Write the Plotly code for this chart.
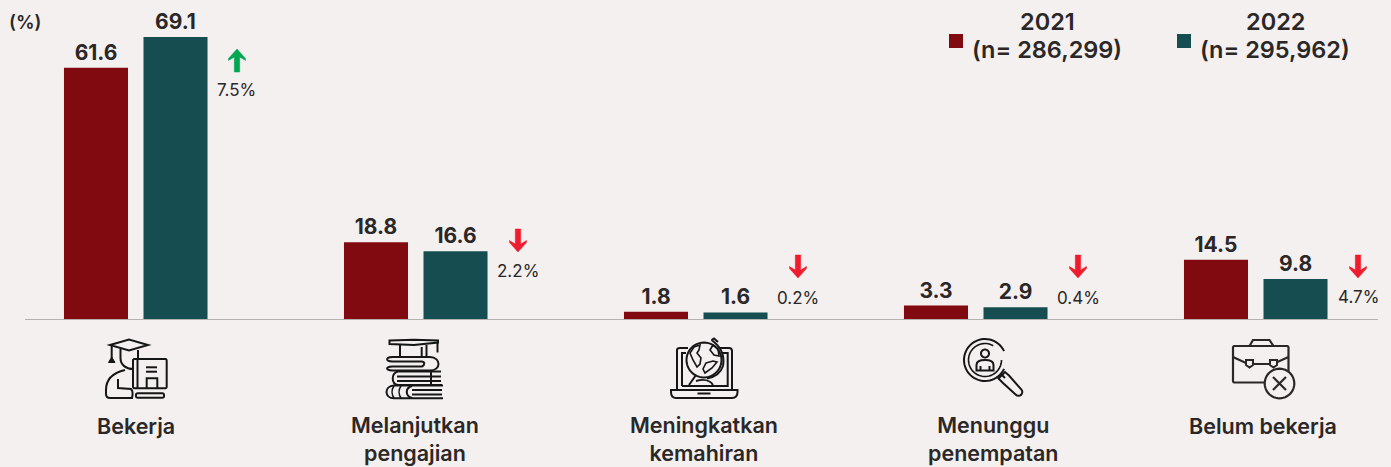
import math
import plotly.graph_objects as go

W, H = 1391, 467
BG = "#f3f0ef"
INK = "#2b2727"
ICON = "#161616"
FONT = "Inter"

categories = ["Bekerja", "Melanjutkan<br>pengajian", "Meningkatkan<br>kemahiran",
              "Menunggu<br>penempatan", "Belum bekerja"]
series_names = ["2021", "2022"]
sample_sizes = ["(n= 286,299)", "(n= 295,962)"]
values_2021 = [61.6, 18.8, 1.8, 3.3, 14.5]
values_2022 = [69.1, 16.6, 1.6, 2.9, 9.8]
deltas = ["7.5%", "2.2%", "0.2%", "0.4%", "4.7%"]
directions = ["up", "down", "down", "down", "down"]
colors = ["#800a10", "#154d51"]


def X(x):
    return x / W


def Y(y):
    return 1 - y / H


def path(cmds, close=False):
    out = []
    for c in cmds:
        op, pts = c[0], c[1:]
        out.append(op + " ".join(f"{X(pts[i]):.5f},{Y(pts[i + 1]):.5f}" for i in range(0, len(pts), 2)))
    return " ".join(out) + (" Z" if close else "")


def poly(pts, close=False):
    cmds = [("M", *pts[0])] + [("L", *p) for p in pts[1:]]
    return path(cmds, close)


def circle_pts(cx, cy, r, a0=0, a1=360, n=48):
    return [(cx + r * math.cos(math.radians(a0 + (a1 - a0) * i / n)),
             cy + r * math.sin(math.radians(a0 + (a1 - a0) * i / n))) for i in range(n + 1)]


shapes = []


def add(d, color=ICON, width=2.0, fill=None):
    s = dict(type="path", path=d, xref="paper", yref="paper", line=dict(color=color, width=width))
    if fill:
        s["fillcolor"] = fill
    shapes.append(s)


def line(*pts, **kw):
    add(poly(list(pts)), **kw)


def closed(*pts, **kw):
    add(poly(list(pts), True), **kw)


def ring(cx, cy, r, a0=0, a1=360, **kw):
    add(poly(circle_pts(cx, cy, r, a0, a1), a1 - a0 == 360), **kw)


def rrect(x0, y0, x1, y1, r=2, **kw):
    pts = (circle_pts(x1 - r, y0 + r, r, -90, 0, 5) + circle_pts(x1 - r, y1 - r, r, 0, 90, 5) +
           circle_pts(x0 + r, y1 - r, r, 90, 180, 5) + circle_pts(x0 + r, y0 + r, r, 180, 270, 5))
    add(poly(pts, True), **kw)


# Icon: graduate at a computer
closed((110, 345), (129, 339.5), (148, 345), (129, 350.5))
line((111.7, 346), (111.7, 358))
closed((108.5, 362.5), (115, 362.5), (111.7, 357), fill=ICON, width=1)
add(path([("M", 120.5, 349), ("L", 120.5, 358), ("C", 120.5, 365, 126, 369, 133, 369)]))
add(path([("M", 138, 350), ("L", 138, 358)]))
add(path([("M", 125, 370), ("C", 112, 373, 106, 380, 106, 390), ("L", 106, 394),
          ("C", 106, 397, 108, 398, 110, 398), ("L", 132, 398), ("C", 133, 394, 133, 391, 131, 389),
          ("L", 118, 388), ("L", 118, 379)]))
rrect(133, 359, 166.7, 388.3, 1.5)
line((137.5, 359.5), (137.5, 388))
line((146, 367.3), (157, 367.3))
line((146, 371.7), (157, 371.7))
line((146.7, 388), (146.7, 378.3), (157.3, 378.3), (157.3, 388))
rrect(136, 393.3, 164, 397.7, 1.5)

# Icon: stacked books with a cap
closed((389.5, 340.5), (414, 339.7), (438, 340.5), (438, 342.5), (414, 345), (389.5, 344))
line((400, 345), (400, 356.5))
line((426.5, 345), (426.5, 356.5))
line((421.7, 347), (421.7, 356.5))
line((437.5, 342), (437.5, 352.5))
add(path([("M", 392, 357), ("L", 430, 357), ("C", 436, 357, 438.5, 361, 438.5, 364),
          ("C", 438.5, 367, 436, 370.5, 430, 370.5), ("L", 392, 370.5),
          ("C", 385.5, 370, 385.5, 367, 392, 366.5), ("L", 422, 366.5),
          ("C", 425, 365, 425, 362, 422, 361.5), ("L", 392, 361.5), ("C", 385.5, 361, 385.5, 357.5, 392, 357)]))
add(path([("M", 441, 371.5), ("L", 398, 371.5), ("C", 391, 373, 391, 384, 398, 385), ("L", 442, 385)]))
line((397, 376.5), (441, 376.5))
line((397, 381), (441, 381))
line((431, 372), (431, 385))
add(path([("M", 443, 385.5), ("L", 394, 385.5), ("C", 384, 386, 384, 398, 394, 398.3), ("L", 443, 398.3)]))
add(path([("M", 412, 390), ("L", 442, 390)]))
add(path([("M", 412, 394.5), ("L", 442, 394.5)]))
add(path([("M", 412, 386), ("C", 405, 388, 405, 396, 412, 398)]))
add(path([("M", 394, 386), ("C", 391, 390, 392, 395, 394, 398)]), width=1.6)
add(path([("M", 401, 386), ("C", 398, 390, 399, 395, 401, 398)]), width=1.6)

# Icon: laptop with a globe
add(poly([(682, 386), (682, 353), (686, 353)]))
add(poly([(722, 353), (727.7, 353), (727.7, 386), (682, 386)]))
add(path([("M", 677, 389), ("L", 677, 350), ("C", 677, 348.5, 678, 348, 680, 348), ("L", 688, 348)]))
add(path([("M", 720, 348), ("L", 729, 348), ("C", 731, 348, 732, 349, 732, 351), ("L", 732, 389)]))
add(path([("M", 671, 390), ("L", 737.5, 390), ("L", 737.5, 392), ("C", 737.5, 396, 735, 398, 732, 398),
          ("L", 676, 398), ("C", 673, 398, 671, 396, 671, 392), ("Z",)]))
line((697.5, 393.5), (710.5, 393.5))
ring(704, 360, 17.5)
add(path([("M", 711.5, 340), ("C", 720, 346, 725, 355, 723, 366), ("C", 721, 372, 716, 377, 707, 378.5)]))
line((711.5, 340), (714, 338.5), (718, 342))
line((689, 385), (696, 375))
add(path([("M", 696, 381), ("C", 703, 379, 710, 380, 713, 385)]))
closed((694, 347), (700, 345), (699, 350), (697, 353), (701, 358), (700, 364), (697, 367), (693, 360), (690, 353), width=1.6)
closed((713, 345), (718, 349), (719, 356), (714, 355), (710, 350), width=1.6)
closed((706, 363), (713, 361), (717, 362), (712, 368), (705, 373), (703, 369), width=1.6)

# Icon: magnifier with a person
ring(985, 360, 21, 25, 335)
ring(985, 360, 16.5, 0, 300, width=1.6)
ring(985, 353.5, 4)
add(path([("M", 976.5, 370.5), ("L", 976.5, 365), ("C", 976.5, 361, 980, 360, 985, 360),
          ("C", 990, 360, 993.5, 361, 993.5, 365), ("L", 993.5, 370.5), ("Z",)]))
line((980.5, 366), (980.5, 370))
line((989.5, 366), (989.5, 370))
line((1002, 375), (1005, 378))
hx = circle_pts(1018.5, 392, 3.8, -45, 135, 8)
closed((998.5, 378.5), (1005, 372), (1009, 375.5), *hx, (1003, 383))

# Icon: briefcase with a cross
rrect(1233, 346, 1288.5, 382.5, 1.5, color=INK, width=2.2)
line((1249.5, 346), (1253, 340), (1269.5, 340), (1273.5, 346), color=INK, width=2.2)
line((1233, 357), (1248, 364), (1273, 364), (1288.5, 357), color=INK, width=2.2)
closed((1246, 360), (1253, 360), (1253, 365), (1249.5, 367.5), (1246, 365), color=INK, fill=BG)
closed((1270, 360), (1277, 360), (1277, 365), (1273.5, 367.5), (1270, 365), color=INK, fill=BG)
add(poly(circle_pts(1279.5, 383.5, 14.8), True), color=INK, width=2.2, fill=BG)
line((1273, 377), (1286, 390), color=INK, width=2.2)
line((1286, 377), (1273, 390), color=INK, width=2.2)

# Change arrows
arrow_x = [237, 518, 798, 1078, 1358]
arrow_top = [49, 229, 255, 255, 255]
label_y = [90, 271, 298, 298, 297]
for ax, top, d in zip(arrow_x, arrow_top, directions):
    if d == "up":
        pts = [(ax, top), (ax + 8.5, top + 9.5), (ax + 8.5, top + 11.5), (ax + 2.7, top + 8), (ax + 2.7, top + 23),
               (ax - 2.7, top + 23), (ax - 2.7, top + 8), (ax - 8.5, top + 11.5), (ax - 8.5, top + 9.5)]
        c = "#00a651"
    else:
        b = top + 23
        pts = [(ax, b), (ax + 8.5, b - 9.5), (ax + 8.5, b - 11.5), (ax + 2.7, b - 8), (ax + 2.7, top),
               (ax - 2.7, top), (ax - 2.7, b - 8), (ax - 8.5, b - 11.5), (ax - 8.5, b - 9.5)]
        c = "#ee1c2e"
    closed(*pts, color=c, width=0.5, fill=c)

# Legend swatches
for sx, c in zip([949, 1177], colors):
    shapes.append(dict(type="rect", xref="paper", yref="paper", x0=X(sx), x1=X(sx + 14), y0=Y(48), y1=Y(34),
                       fillcolor=c, line=dict(width=0)))


def note(text, x, y, size, bold=True, color=INK):
    return dict(text=text, x=X(x), y=Y(y), xref="paper", yref="paper", xanchor="center", yanchor="middle",
                showarrow=False, align="center",
                font=dict(family=FONT, size=size, color=color, weight=600 if bold else 400))


annotations = [note("(%)", 25, 22, 18.5)]
for d, x, y in zip(deltas, arrow_x, label_y):
    annotations.append(note(d, x, y, 17, bold=False))
for text, x, y in zip(categories, [136, 415, 704, 993, 1263], [426, 439, 439, 439, 426]):
    annotations.append(note(text, x, y, 21.5))
for name, n, x in zip(series_names, sample_sizes, [1047, 1275]):
    annotations.append(note(name, x, 21, 23.5))
    annotations.append(note(n, x, 49, 23.5))

fig = go.Figure()
for name, vals, c in zip(series_names, [values_2021, values_2022], colors):
    fig.add_trace(go.Bar(name=name, x=categories, y=vals, marker=dict(color=c, line=dict(width=0)),
                         text=[f"{v:.1f}" for v in vals], textposition="outside", cliponaxis=False,
                         textfont=dict(family=FONT, size=21, color=INK, weight=700)))

px_per_unit = 4.08
base_y = 319
fig.update_layout(
    width=W, height=H, margin=dict(l=0, r=0, t=0, b=0, pad=0),
    paper_bgcolor=BG, plot_bgcolor=BG, showlegend=False, barmode="group",
    bargap=0.432, bargroupgap=0.195, shapes=shapes, annotations=annotations,
    xaxis=dict(domain=[25 / W, 1377.5 / W], type="category", range=[(25 - 135.75) / 280, (1377.5 - 135.75) / 280],
               showticklabels=False, ticks="", showgrid=False, zeroline=False, showline=True,
               linecolor="#b4b2b1", linewidth=1),
    yaxis=dict(domain=[(H - base_y) / H, 1], range=[0, base_y / px_per_unit], visible=False),
    uniformtext=dict(mode=False),
)
fig.write_html("out.html", config=dict(displayModeBar=False),
               post_script="document.body.style.margin='0';document.body.style.background='%s';" % BG)
